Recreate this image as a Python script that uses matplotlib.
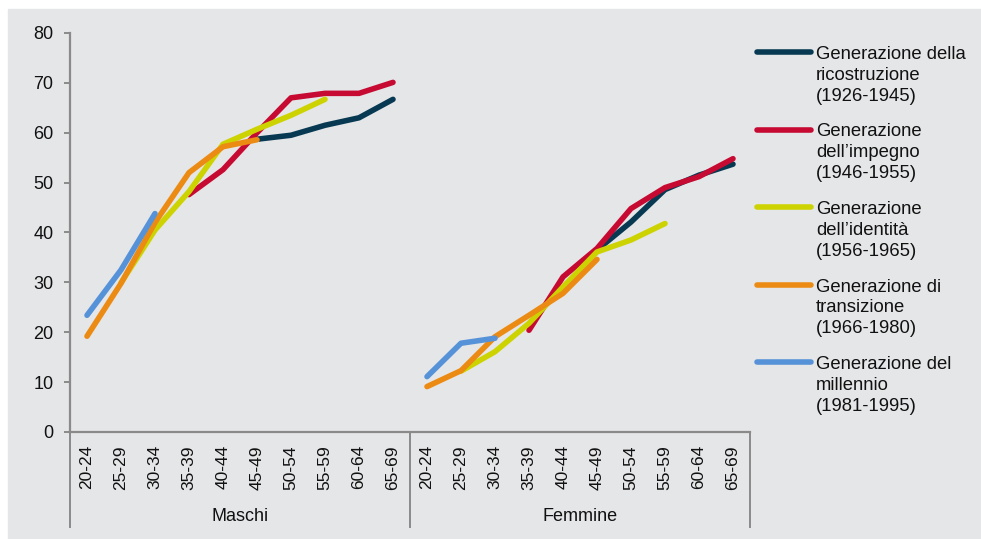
import numpy as np
import matplotlib
matplotlib.use("Agg")
import matplotlib.pyplot as plt
from matplotlib.patches import Rectangle
from matplotlib.lines import Line2D

nan = np.nan

# --- Data ---
age_groups = ["20-24", "25-29", "30-34", "35-39", "40-44",
              "45-49", "50-54", "55-59", "60-64", "65-69"]
sexes = ["Maschi", "Femmine"]

# values: 10 male age groups followed by 10 female age groups
ricostruzione = [nan, nan, nan, nan, nan, 58.7, 59.5, 61.5, 63.0, 66.7,
                 nan, nan, nan, nan, nan, 36.5, 42.1, 48.6, 51.5, 53.7]
impegno = [nan, nan, nan, 47.6, 52.6, 60.0, 67.0, 67.9, 67.9, 70.1,
           nan, nan, nan, 20.4, 31.1, 36.8, 44.8, 49.0, 51.2, 54.8]
identita = [nan, 29.9, 40.5, 48.2, 57.7, 60.7, 63.5, 66.7, nan, nan,
            nan, 12.2, 16.1, 21.8, 29.1, 36.1, 38.5, 41.8, nan, nan]
transizione = [19.2, 29.8, 42.0, 52.0, 57.2, 58.6, nan, nan, nan, nan,
               9.1, 12.3, 19.1, 23.4, 27.8, 34.6, nan, nan, nan, nan]
millennio = [23.4, 32.5, 43.8, nan, nan, nan, nan, nan, nan, nan,
             11.1, 17.8, 18.8, nan, nan, nan, nan, nan, nan, nan]

series_labels = [
    "Generazione della\nricostruzione\n(1926-1945)",
    "Generazione\ndell\u2019impegno\n(1946-1955)",
    "Generazione\ndell\u2019identit\u00e0\n(1956-1965)",
    "Generazione di\ntransizione\n(1966-1980)",
    "Generazione del\nmillennio\n(1981-1995)",
]
series_values = [ricostruzione, impegno, identita, transizione, millennio]
colors = ["#073a52", "#c60a32", "#cdd300", "#ec8b14", "#5692d8"]

plt.rcParams['font.family'] = ['Liberation Sans', 'DejaVu Sans']
W, H = 981, 539
fig = plt.figure(figsize=(W / 100, H / 100), dpi=100, facecolor="white")
fig.patches.append(Rectangle((8 / W, 0), 1 - 8 / W, 1 - 9 / H,
                             transform=fig.transFigure, color="#e5e6e8",
                             zorder=-10))

ax = fig.add_axes([70 / W, 1 - 432 / H, 680 / W, 399 / H])
ax.set_facecolor("none")

labels = age_groups * len(sexes)
x = np.arange(len(labels))
for vals, col in zip(series_values, colors):
    ax.plot(x, vals, color=col, lw=4, solid_capstyle="round",
            solid_joinstyle="round", clip_on=False)

axis_col = "#8a8a8a"
ax.set_xlim(-0.5, len(labels) - 0.5)
ax.set_ylim(0, 80)
ax.set_yticks(np.arange(0, 81, 10))
ax.set_xticks(x)
ax.set_xticklabels(labels, rotation=90)
ax.tick_params(axis="y", length=4, width=1.4, color=axis_col, pad=8,
               labelsize=13, labelcolor="#111111")
ax.tick_params(axis="x", length=0, pad=9.5, labelsize=12.5,
               labelcolor="#111111")
for s in ["top", "right"]:
    ax.spines[s].set_visible(False)
for s in ["left", "bottom"]:
    ax.spines[s].set_color(axis_col)
    ax.spines[s].set_linewidth(1.6)

# group separators and group labels
trans = ax.get_xaxis_transform()
n = len(age_groups)
for b in [-0.5, n - 0.5, 2 * n - 0.5]:
    ax.plot([b, b], [0, -0.238], transform=trans, color=axis_col, lw=1.4,
            clip_on=False)
for i, s in enumerate(sexes):
    ax.text(i * n + (n - 1) / 2, -0.212, s, transform=trans, ha="center",
            va="center", fontsize=13, color="#111111")

# legend drawn by hand to keep the key at the first text line
for i, (lab, col) in enumerate(zip(series_labels, colors)):
    yc = 52 + 77.5 * i
    fig.add_artist(Line2D([757 / W, 811 / W], [1 - yc / H, 1 - yc / H],
                          transform=fig.transFigure, color=col, lw=4,
                          solid_capstyle="round"))
    fig.text(816 / W, 1 - (yc - 6) / H, lab, ha="left", va="top",
             fontsize=13.3, color="#111111", linespacing=1.3)

fig.savefig("out.png", dpi=100, facecolor="white")
